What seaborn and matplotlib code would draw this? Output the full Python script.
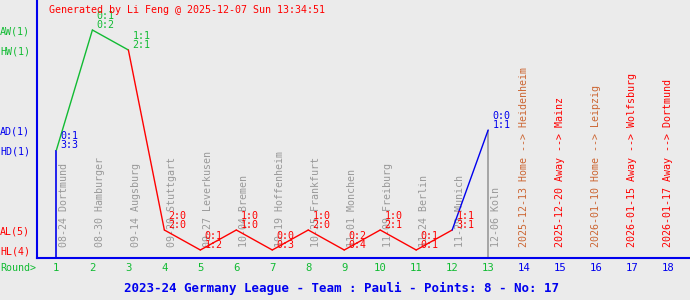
import matplotlib
matplotlib.use("Agg")
import matplotlib.pyplot as plt
import seaborn as sns
import pandas as pd

# ---------------- data ----------------
rounds = list(range(1, 14))
results = ["HD", "AW", "HW", "AL", "HL", "AL", "HL", "AL", "HL", "AL", "HL", "AL", "AD"]
halftime = ["0:1", "0:1", "1:1", "2:0", "0:1", "1:0", "0:0", "1:0", "0:2", "1:0", "0:1", "1:1", "0:0"]
fulltime = ["3:3", "0:2", "2:1", "2:0", "1:2", "1:0", "0:3", "2:0", "0:4", "2:1", "0:1", "3:1", "1:1"]
dates = ["08-24", "08-30", "09-14", "09-20", "09-27", "10-04", "10-19", "10-25",
         "11-01", "11-09", "11-24", "11-29", "12-06"]
opponents = ["Dortmund", "Hamburger", "Augsburg", "Stuttgart", "Leverkusen", "Bremen",
             "Hoffenheim", "Frankfurt", "Monchen", "Freiburg", "Berlin", "Munich", "Koln"]

future_rounds = [14, 15, 16, 17, 18]
future_dates = ["2025-12-13", "2025-12-20", "2026-01-10", "2026-01-15", "2026-01-17"]
future_venue = ["Home", "Away", "Home", "Away", "Away"]
future_opp = ["Heidenheim", "Mainz", "Leipzig", "Wolfsburg", "Dortmund"]

level_names = ["HL", "AL", "HD", "AD", "HW", "AW"]
level_values = [1, 2, 6, 7, 11, 12]
level_counts = [4, 5, 1, 1, 1, 1]

title = "2023-24 Germany League - Team : Pauli - Points: 8 - No: 17"
generated = "Generated by Li Feng @ 2025-12-07 Sun 13:34:51"

# ---------------- styling ----------------
GREEN = "#11bb33"
RED = "#ff0000"
BLUE = "#0000ee"
GRAY = "#999999"
BROWN = "#cc6633"
BG = "#ebebeb"
outcome_color = {"W": GREEN, "D": BLUE, "L": RED}

sns.set_theme(style="white")
plt.rcParams["font.family"] = ["DejaVu Sans Mono", "DejaVu Sans"]
FS = 7.2

level_map = dict(zip(level_names, level_values))
df = pd.DataFrame({"round": rounds, "result": results,
                   "y": [level_map[r] for r in results],
                   "outcome": [r[1] for r in results]})

fig = plt.figure(figsize=(6.9, 3.0), dpi=100, facecolor=BG)
ax = fig.add_axes([37 / 690, 42 / 300, 1 - 37 / 690, 1 - 42 / 300])
ax.set_facecolor(BG)
ax.set_xlim(0.46, 18.61)
ax.set_ylim(0.6, 13.5)

# date / opponent labels (behind)
for r, d, o in zip(rounds, dates, opponents):
    ax.annotate(f"{d} {o}", xy=(r, 1.15), xytext=(5.8, 0), textcoords="offset points",
                rotation=90, ha="center", va="bottom", color=GRAY, fontsize=FS, zorder=1)
for r, d, v, o in zip(future_rounds, future_dates, future_venue, future_opp):
    ax.annotate(f"{d} {v} --> {o}", xy=(r, 1.15), xytext=(0, 0), textcoords="offset points",
                rotation=90, ha="center", va="bottom",
                color=BROWN if v == "Home" else RED, fontsize=FS, zorder=1)

# vertical markers
ax.vlines(df["round"].iloc[0], 0.6, df["y"].iloc[0], color=BLUE, lw=1.2, zorder=2)
ax.vlines(df["round"].iloc[-1], 0.6, df["y"].iloc[-1], color=GRAY, lw=1.2, zorder=2)

# line segments colored by destination outcome
for i in range(1, len(df)):
    seg = df.iloc[i - 1:i + 1]
    sns.lineplot(data=seg, x="round", y="y", ax=ax, color=outcome_color[df["outcome"].iloc[i]],
                 lw=1.0, zorder=3, legend=False)

# score labels
for r, y, oc, ht, ft in zip(df["round"], df["y"], df["outcome"], halftime, fulltime):
    ax.annotate(f"{ht}\n{ft}", xy=(r, y), xytext=(3, 0), textcoords="offset points",
                ha="left", va="bottom", color=outcome_color[oc], fontsize=FS,
                linespacing=0.9, zorder=4)

# axes styling
for s in ["top", "right"]:
    ax.spines[s].set_visible(False)
for s in ["left", "bottom"]:
    ax.spines[s].set_color(BLUE)
    ax.spines[s].set_linewidth(1.5)

ax.set_xlabel("")
ax.set_ylabel("")
all_rounds = rounds + future_rounds
ax.set_xticks(all_rounds)
ax.set_xticklabels([str(r) for r in all_rounds], fontsize=FS + 0.5)
for t, r in zip(ax.get_xticklabels(), all_rounds):
    t.set_color(GREEN if r <= 13 else BLUE)
ax.tick_params(axis="x", direction="in", length=3.6, width=1.2, color=BLUE, pad=3.5)

ax.set_yticks(level_values)
ax.set_yticklabels([f"{n}({c})" for n, c in zip(level_names, level_counts)], fontsize=FS)
for t, n in zip(ax.get_yticklabels(), level_names):
    t.set_color({"W": GREEN, "D": BLUE, "L": RED}[n[1]])
    t.set_horizontalalignment("left")
ax.tick_params(axis="y", direction="in", length=3.6, width=1.2, color=BLUE, pad=26.6)

fig.text(0.0, 1 - 268 / 300, "Round>", color=GREEN, fontsize=FS, ha="left", va="center")
fig.text(49 / 690, 1 - 10 / 300, generated, color=RED, fontsize=FS, ha="left", va="center")
fig.text(342 / 690, 1 - 288 / 300, title, color=BLUE, fontsize=9, fontweight="bold",
         ha="center", va="center")

fig.savefig("out.png", dpi=100, facecolor=BG)
